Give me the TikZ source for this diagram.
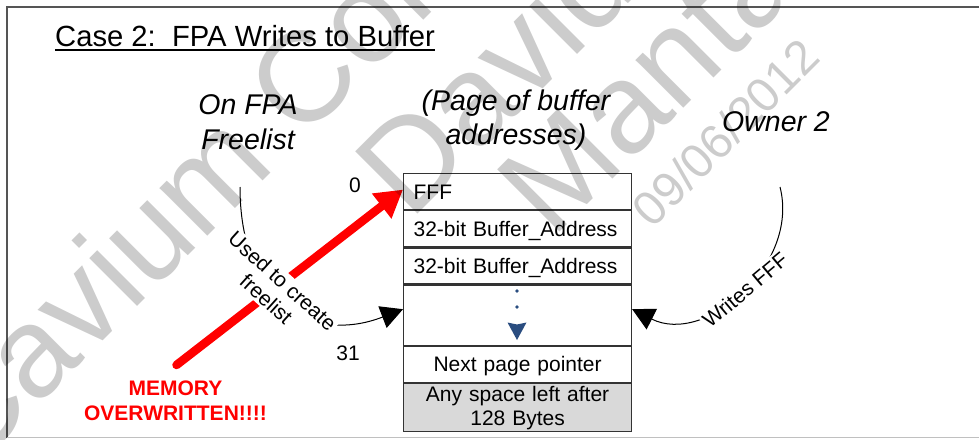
\documentclass[tikz,border=0pt]{standalone}
\usepackage{fontspec}
\setmainfont{Liberation Sans}
\usetikzlibrary{arrows.meta,calc}
\frenchspacing
\definecolor{framegray}{HTML}{555555}
\definecolor{lightframe}{HTML}{C0C0C0}
\definecolor{rowgray}{HTML}{D9D9D9}
\definecolor{dotblue}{HTML}{2A4D80}
\definecolor{memred}{HTML}{FF0000}
\definecolor{boxline}{HTML}{333333}
\newcommand\fsSmall{\fontsize{21}{24}\selectfont}
\newcommand\fsTitle{\fontsize{29.2}{34}\selectfont}
\newcommand\fsItal{\fontsize{28.5}{34}\selectfont\itshape}
\newcommand\fsMem{\fontsize{21}{25}\selectfont\bfseries}
\newcommand\fsWM{\fontsize{128}{128}\selectfont}
\newcommand\fsWMs{\fontsize{48}{48}\selectfont}
\begin{document}
\begin{tikzpicture}[x=1pt,y=-1pt,
  rowbox/.style={draw=boxline, line width=1.2pt, fill=white, minimum width=228pt,
    inner xsep=10pt, inner ysep=0pt, text width=208pt, anchor=north west, font=\fsSmall},
  rowleft/.style={rowbox, align=left, text height=15pt, text depth=0pt, minimum height=36pt},
  rowmid/.style={rowbox, align=center, text height=15pt, text depth=0pt, minimum height=36pt},
  rowlast/.style={rowbox, align=center, fill=rowgray, minimum height=48pt},
  ital/.style={font=\fsItal, inner sep=0pt, anchor=base},
  smalltxt/.style={font=\fsSmall, inner sep=0pt, anchor=base},
  memtxt/.style={font=\fsMem, text=memred, inner sep=0pt, anchor=base},
  arcline/.style={line width=1pt, -{Triangle[length=22pt,width=23pt]}},
  arclabel/.style={font=\fsSmall, fill=white, inner sep=2pt, align=center},
  wmark/.style={text=black, text opacity=0.2, inner sep=0pt, anchor=base west, rotate=45}
]
\useasboundingbox (0,0) rectangle (979,439);
% frame
\draw[framegray, line width=1.5pt] (7,437.5) -- (7,7) -- (979,7);
\draw[lightframe, line width=1.5pt] (7,437.5) -- (979,437.5);

% title
\node[font=\fsTitle, inner sep=0pt, anchor=base west] (title) at (55,46.5) {Case 2:\ \ FPA Writes to Buffer};
\draw[line width=1.5pt] ($(title.base west)+(0,3.5)$) -- ($(title.base east)+(0,3.5)$);

% headings
\node[ital] (fpa1) at (248,114) {On FPA};
\node[ital] (fpa2) at (248,149) {Freelist};
\node[ital] (page1) at (516,110) {(Page of buffer};
\node[ital] (page2) at (516,144) {addresses)};
\node[ital] (owner) at (776,131.5) {Owner 2};

% page of buffer addresses
\node[rowleft] (fff) at (403,173) {FFF};
\node[rowleft] (addr1) at (fff.south west) {32-bit Buffer\_Address};
\node[rowleft] (addr2) at (addr1.south west) {32-bit Buffer\_Address};
\node[rowbox, minimum height=60pt] (dots) at (addr2.south west) {};
\node[rowmid] (nextp) at (dots.south west) {Next page pointer};
\node[rowlast] (anysp) at (nextp.south west) {Any space left after\\128 Bytes};

% dotted continuation arrow
\coordinate (d1) at (517,291);
\coordinate (d2) at (517,307);
\coordinate (dtip) at (517,340);
\fill[dotblue] (d1) circle (1.8);
\fill[dotblue] (d2) circle (1.8);
\fill[dotblue] ($(dtip)+(-9.5,-17.5)$) -- ($(dtip)+(0,-15.5)$) -- ($(dtip)+(9.5,-17.5)$) -- (dtip) -- cycle;

% index labels
\node[smalltxt] (zero) at (355,192) {0};
\node[smalltxt] (thirtyone) at (348,360) {31};

% memory overwritten
\node[memtxt] (mem1) at (175.5,395.5) {MEMORY};
\node[memtxt] (mem2) at (175.5,420) {OVERWRITTEN!!!!};
\coordinate (redstart) at (176.5,365);
\draw[memred, line width=8.5pt, line cap=round, -{Triangle[length=27pt,width=30pt]}]
  (redstart) -- ($(fff.west)+(0,-2)$);

% arcs
\coordinate (arcLstart) at (240,187);
\coordinate (arcRstart) at (780,187);
\draw[arcline] (arcLstart) .. controls (240,300) and (310,345) .. ($(dots.west)+(0,-6)$);
\draw[arcline] (arcRstart) .. controls (800,265) and (705,346) .. ($(dots.east)+(0,-6)$);
\node[arclabel, rotate=-42] (usedlbl) at (274.5,290) {Used to create\\freelist};
\node[arclabel, rotate=40] (writeslbl) at (745,290) {Writes FFF};

% watermark
\begin{scope}
\clip (0,0) rectangle (979,439);
\node[wmark, font=\fsWM] (wm1) at (-30,474) {Cavium Confidential};
\node[wmark, font=\fsWM] (wm2) at (410,222) {David};
\node[wmark, font=\fsWM] (wm3) at (552,240) {Mantai};
\node[wmark, font=\fsWMs] (wm4) at (652.6,229.4) {09/06/2012};
\end{scope}
\end{tikzpicture}
\end{document}
